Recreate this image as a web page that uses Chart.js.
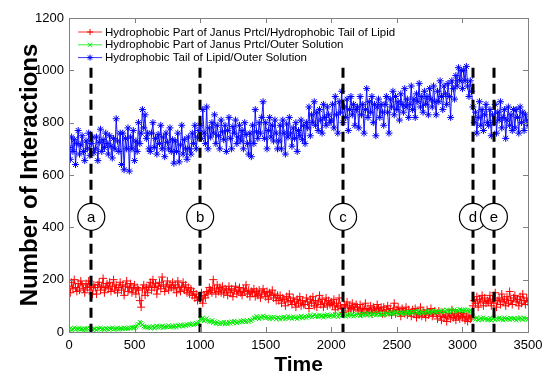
<!DOCTYPE html>
<html>
<head>
<meta charset="utf-8">
<script src="https://cdn.jsdelivr.net/npm/chart.js@4.4.0/dist/chart.umd.min.js"></script>
<style>
  html, body { margin: 0; padding: 0; background: #fff; }
</style>
</head>
<body>
<canvas id="chart" width="543" height="376"></canvas>
<script>
// sampled every TIME_STEP time units, starting at 0
const TIME_STEP = 10;

// Hydrophobic Part of Janus Prtcl / Hydrophobic Tail of Lipid (red, +)
const janusLipidValues = [
    175, 150, 190, 165, 200, 170, 155, 185, 160, 195, 180, 165, 150, 185, 170, 195, 160, 175, 145, 180,
    170, 145, 180, 190, 160, 175, 205, 150, 170, 185, 165, 190, 155, 175, 200, 160, 180, 150, 170, 190,
    160, 180, 140, 175, 195, 155, 170, 185, 150, 165, 180, 145, 170, 160, 120, 95, 165, 180, 140, 170,
    150, 175, 190, 160, 200, 170, 185, 145, 175, 190, 165, 210, 180, 155, 175, 195, 160, 180, 170, 190,
    165, 180, 150, 195, 170, 155, 175, 190, 160, 180, 150, 170, 145, 165, 140, 155, 130, 145, 120, 135,
    125, 150, 110, 140, 130, 155, 145, 170, 160, 150, 200, 165, 145, 180, 155, 170, 150, 175, 145, 165,
    160, 140, 175, 150, 165, 135, 160, 175, 145, 155, 170, 150, 140, 165, 155, 180, 145, 160, 135, 155,
    150, 165, 135, 155, 140, 160, 130, 145, 165, 150, 135, 155, 125, 150, 140, 160, 130, 145, 120, 140,
    120, 140, 110, 130, 125, 100, 135, 115, 145, 120, 105, 130, 115, 95, 125, 110, 135, 100, 120, 105,
    105, 130, 115, 90, 125, 110, 135, 100, 120, 95, 115, 140, 105, 125, 95, 110, 130, 100, 120, 105,
    115, 100, 125, 85, 110, 95, 130, 100, 90, 75, 105, 95, 115, 80, 100, 90, 110, 85, 95, 105,
    95, 80, 105, 70, 90, 85, 110, 75, 90, 80, 100, 70, 95, 85, 75, 105, 90, 80, 95, 70,
    95, 70, 85, 100, 75, 90, 65, 80, 110, 70, 85, 95, 75, 60, 90, 80, 70, 95, 65, 85,
    75, 60, 85, 70, 90, 55, 75, 65, 95, 60, 80, 70, 55, 85, 65, 75, 90, 60, 70, 80,
    70, 50, 80, 60, 45, 75, 55, 65, 40, 60, 70, 50, 85, 55, 65, 45, 70, 60, 50, 75,
    55, 70, 45, 60, 40, 65, 50, 55, 100, 120, 110, 135, 95, 125, 115, 140, 100, 130, 110, 120,
    115, 140, 100, 125, 110, 150, 95, 120, 130, 105, 145, 115, 125, 100, 135, 110, 155, 120, 105, 130,
    140, 115, 125, 100, 135, 110, 145, 120, 105, 130, 115
];

// Hydrophobic Part of Janus Prtcl / Outer Solution (green, x)
const janusSolutionValues = [
    10, 14, 8, 12, 16, 9, 13, 11, 15, 10, 12, 7, 14, 10, 13, 9, 15, 11, 8, 12,
    12, 8, 14, 11, 16, 10, 13, 9, 15, 12, 10, 14, 11, 16, 9, 13, 12, 15, 10, 14,
    14, 11, 17, 13, 15, 12, 16, 14, 18, 15, 17, 20, 24, 30, 38, 34, 28, 22, 18, 20,
    16, 20, 14, 18, 22, 15, 19, 23, 17, 21, 18, 24, 16, 20, 22, 19, 25, 18, 21, 23,
    20, 24, 18, 26, 22, 28, 25, 21, 27, 24, 29, 26, 30, 27, 32, 28, 31, 34, 30, 36,
    50, 45, 55, 42, 48, 52, 44, 40, 38, 45, 35, 40, 32, 38, 34, 30, 36, 33, 38, 31,
    36, 30, 38, 33, 40, 35, 42, 38, 34, 40, 37, 43, 39, 45, 41, 38, 44, 40, 46, 42,
    48, 55, 52, 60, 56, 50, 58, 54, 62, 57, 53, 59, 55, 50, 56, 52, 58, 54, 49, 55,
    54, 48, 56, 52, 58, 50, 55, 60, 53, 57, 51, 59, 54, 56, 50, 58, 55, 61, 53, 57,
    60, 55, 62, 58, 64, 57, 61, 66, 59, 63, 58, 65, 60, 62, 56, 64, 61, 67, 59, 63,
    62, 66, 60, 68, 63, 58, 65, 70, 62, 67, 64, 59, 66, 61, 69, 63, 67, 60, 65, 68,
    64, 68, 61, 70, 66, 63, 69, 65, 72, 67, 62, 70, 66, 73, 64, 68, 71, 65, 69, 67,
    70, 66, 73, 68, 71, 75, 69, 74, 70, 77, 72, 68, 75, 71, 74, 69, 76, 72, 78, 73,
    73, 78, 72, 76, 80, 74, 77, 71, 79, 75, 72, 78, 74, 81, 76, 73, 79, 75, 82, 77,
    78, 74, 81, 76, 79, 83, 77, 80, 85, 82, 76, 84, 79, 81, 86, 78, 83, 80, 87, 82,
    84, 79, 86, 81, 85, 78, 82, 80, 60, 52, 48, 55, 45, 50, 53, 47, 56, 49, 52, 46,
    47, 53, 44, 50, 56, 46, 52, 48, 54, 49, 51, 45, 55, 48, 53, 50, 46, 54, 49, 52,
    51, 45, 53, 48, 55, 50, 47, 54, 49, 52, 48
];

// Hydrophobic Tail of Lipid / Outer Solution (blue, *)
const lipidSolutionValues = [
    705, 660, 745, 690, 735, 640, 720, 770, 680, 715, 750, 690, 655, 730, 700, 760, 675, 720, 745, 685,
    700, 745, 655, 725, 775, 690, 735, 705, 760, 720, 680, 750, 710, 665, 740, 700, 815, 730, 690, 760,
    640, 760, 620, 740, 700, 780, 615, 745, 700, 770, 655, 730, 690, 800, 720, 760, 850, 780, 830, 740,
    760, 700, 690, 760, 800, 705, 740, 680, 755, 720, 790, 700, 745, 670, 760, 725, 700, 780, 690, 735,
    645, 730, 690, 760, 650, 715, 790, 680, 735, 700, 660, 745, 700, 680, 760, 720, 790, 700, 745, 770,
    790, 740, 850, 760, 720, 860, 700, 780, 745, 800, 760, 830, 720, 790, 750, 700, 810, 765, 735, 790,
    690, 770, 820, 740, 700, 785, 760, 810, 720, 745, 790, 730, 770, 700, 800, 755, 720, 680, 760, 670,
    790, 720, 850, 765, 740, 800, 760, 820, 880, 740, 800, 700, 770, 820, 745, 790, 730, 810, 760, 700,
    730, 790, 700, 810, 760, 680, 795, 745, 820, 760, 710, 780, 740, 800, 690, 770, 750, 810, 735, 790,
    720, 800, 780, 860, 750, 830, 800, 880, 790, 840, 770, 850, 810, 760, 870, 820, 790, 860, 830, 800,
    810, 870, 780, 900, 830, 760, 880, 840, 920, 800, 860, 820, 890, 770, 850, 900, 830, 870, 790, 850,
    860, 780, 900, 830, 870, 760, 850, 930, 820, 880, 840, 900, 800, 870, 750, 860, 890, 820, 870, 840,
    790, 870, 900, 840, 760, 890, 860, 920, 830, 900, 850, 880, 810, 910, 870, 840, 930, 860, 890, 820,
    870, 940, 850, 890, 820, 910, 880, 950, 860, 900, 840, 920, 870, 900, 830, 930, 890, 860, 940, 880,
    830, 920, 880, 960, 900, 850, 940, 910, 870, 950, 900, 820, 960, 930, 890, 980, 940, 1010, 960, 1000,
    930, 1000, 960, 1015, 940, 900, 960, 920, 860, 800, 840, 760, 820, 880, 790, 850, 770, 830, 870, 800,
    790, 850, 750, 830, 800, 870, 760, 840, 810, 880, 780, 820, 850, 740, 810, 860, 790, 830, 770, 850,
    780, 850, 820, 760, 860, 800, 840, 770, 830, 810, 790
];

const seriesLabels = [
    'Hydrophobic Part of Janus Prtcl/Hydrophobic Tail of Lipid',
    'Hydrophobic Part of Janus Prtcl/Outer Solution',
    'Hydrophobic Tail of Lipid/Outer Solution'
];
const seriesColors = ['#ff0000', '#00ee00', '#0000ff'];
const seriesMarkers = ['cross', 'crossRot', 'star'];
const markerSizes = [4, 3, 3.5];

// dashed event lines with their circled letters
const eventTimes = [170, 1000, 2090, 3080, 3240];
const eventLabels = ['a', 'b', 'c', 'd', 'e'];
const eventLineTop = 1010;
const eventLabelLevel = 440;

const X_MAX = 3500, X_STEP = 500;
const Y_MAX = 1200, Y_STEP = 200;

const FONT = "'Liberation Sans', Arial, sans-serif";

function toPoints(values) {
    return values.map((v, i) => ({ x: i * TIME_STEP, y: v }));
}

const allValues = [janusLipidValues, janusSolutionValues, lipidSolutionValues];

const datasets = allValues.map((values, i) => ({
    label: seriesLabels[i],
    data: toPoints(values),
    borderColor: seriesColors[i],
    backgroundColor: seriesColors[i],
    borderWidth: 0.9,
    pointStyle: seriesMarkers[i],
    pointRadius: markerSizes[i],
    pointBorderWidth: 1,
    pointHoverRadius: markerSizes[i],
    order: 2 - i // later series drawn on top, like the original plot
}));

/**
 * Box frame, inward ticks, event lines and legend
 */
const decorPlugin = {
    id: 'decor',
    afterDatasetsDraw(chart) {
        const { ctx, chartArea, scales: { x, y } } = chart;
        ctx.save();

        // dashed vertical event lines
        ctx.strokeStyle = '#000';
        ctx.lineWidth = 3;
        ctx.setLineDash([10, 6]);
        eventTimes.forEach(t => {
            const px = Math.round(x.getPixelForValue(t));
            ctx.beginPath();
            ctx.moveTo(px, y.getPixelForValue(eventLineTop));
            ctx.lineTo(px, chartArea.bottom);
            ctx.stroke();
        });
        ctx.setLineDash([]);

        // circled letters
        ctx.font = `15px ${FONT}`;
        ctx.textAlign = 'center';
        ctx.textBaseline = 'middle';
        eventTimes.forEach((t, i) => {
            const px = x.getPixelForValue(t);
            const py = y.getPixelForValue(eventLabelLevel);
            ctx.beginPath();
            ctx.arc(px, py, 13.5, 0, Math.PI * 2);
            ctx.fillStyle = '#fff';
            ctx.fill();
            ctx.lineWidth = 1.2;
            ctx.strokeStyle = '#000';
            ctx.stroke();
            ctx.fillStyle = '#000';
            ctx.fillText(eventLabels[i], px, py + 1);
        });

        // frame + inward ticks
        const { left, right, top, bottom } = chartArea;
        ctx.strokeStyle = '#808080';
        ctx.lineWidth = 1;
        ctx.strokeRect(left + 0.5, top + 0.5, right - left, bottom - top);
        const tick = 5;
        ctx.beginPath();
        x.ticks.forEach(tk => {
            const px = Math.round(x.getPixelForValue(tk.value)) + 0.5;
            ctx.moveTo(px, bottom); ctx.lineTo(px, bottom - tick);
            ctx.moveTo(px, top); ctx.lineTo(px, top + tick);
        });
        y.ticks.forEach(tk => {
            const py = Math.round(y.getPixelForValue(tk.value)) + 0.5;
            ctx.moveTo(left, py); ctx.lineTo(left + tick, py);
            ctx.moveTo(right, py); ctx.lineTo(right - tick, py);
        });
        ctx.stroke();

        // legend (line sample with marker, like the original)
        ctx.font = `11.5px ${FONT}`;
        ctx.textAlign = 'left';
        ctx.textBaseline = 'middle';
        chart.data.datasets.forEach((ds, i) => {
            const ly = top + 14 + i * 12.8;
            const lx0 = left + 9, lx1 = left + 33;
            ctx.strokeStyle = ds.borderColor;
            ctx.lineWidth = 0.8;
            ctx.beginPath();
            ctx.moveTo(lx0, ly); ctx.lineTo(lx1, ly);
            ctx.stroke();
            ctx.lineWidth = 1;
            Chart.helpers.drawPoint(ctx, { pointStyle: ds.pointStyle, radius: 3, borderWidth: 1 }, (lx0 + lx1) / 2, ly);
            ctx.fillStyle = '#000';
            ctx.fillText(ds.label, lx1 + 3, ly + 0.5);
        });

        ctx.restore();
    }
};

new Chart(document.getElementById('chart').getContext('2d'), {
    type: 'line',
    data: { datasets },
    options: {
        responsive: false,
        animation: false,
        devicePixelRatio: 1,
        layout: { padding: { top: 18, right: 15, left: 0, bottom: 0 } },
        plugins: {
            legend: { display: false },
            tooltip: { enabled: false }
        },
        scales: {
            x: {
                type: 'linear',
                min: 0,
                max: X_MAX,
                afterFit: s => { s.height = 44; s.paddingRight = 0; s.paddingLeft = 0; },
                grid: { display: false, drawTicks: false },
                border: { display: false },
                ticks: {
                    stepSize: X_STEP,
                    color: '#000',
                    padding: 6,
                    maxRotation: 0,
                    callback: v => String(v),
                    font: { family: FONT, size: 13 }
                },
                title: {
                    display: true,
                    text: 'Time',
                    color: '#000',
                    padding: { top: 0, bottom: 0 },
                    font: { family: FONT, size: 21, weight: 'bold', lineHeight: 1 }
                }
            },
            y: {
                min: 0,
                max: Y_MAX,
                afterFit: s => { s.width = 69; s.paddingTop = 0; s.paddingBottom = 0; },
                grid: { display: false, drawTicks: false },
                border: { display: false },
                ticks: {
                    stepSize: Y_STEP,
                    color: '#000',
                    padding: 5,
                    callback: v => String(v),
                    font: { family: FONT, size: 13 }
                },
                title: {
                    display: true,
                    text: 'Number of Interactions',
                    color: '#000',
                    padding: { top: 18, bottom: 0 },
                    font: { family: FONT, size: 24, weight: 'bold', lineHeight: 1 }
                }
            }
        }
    },
    plugins: [decorPlugin]
});
</script>
</body>
</html>
